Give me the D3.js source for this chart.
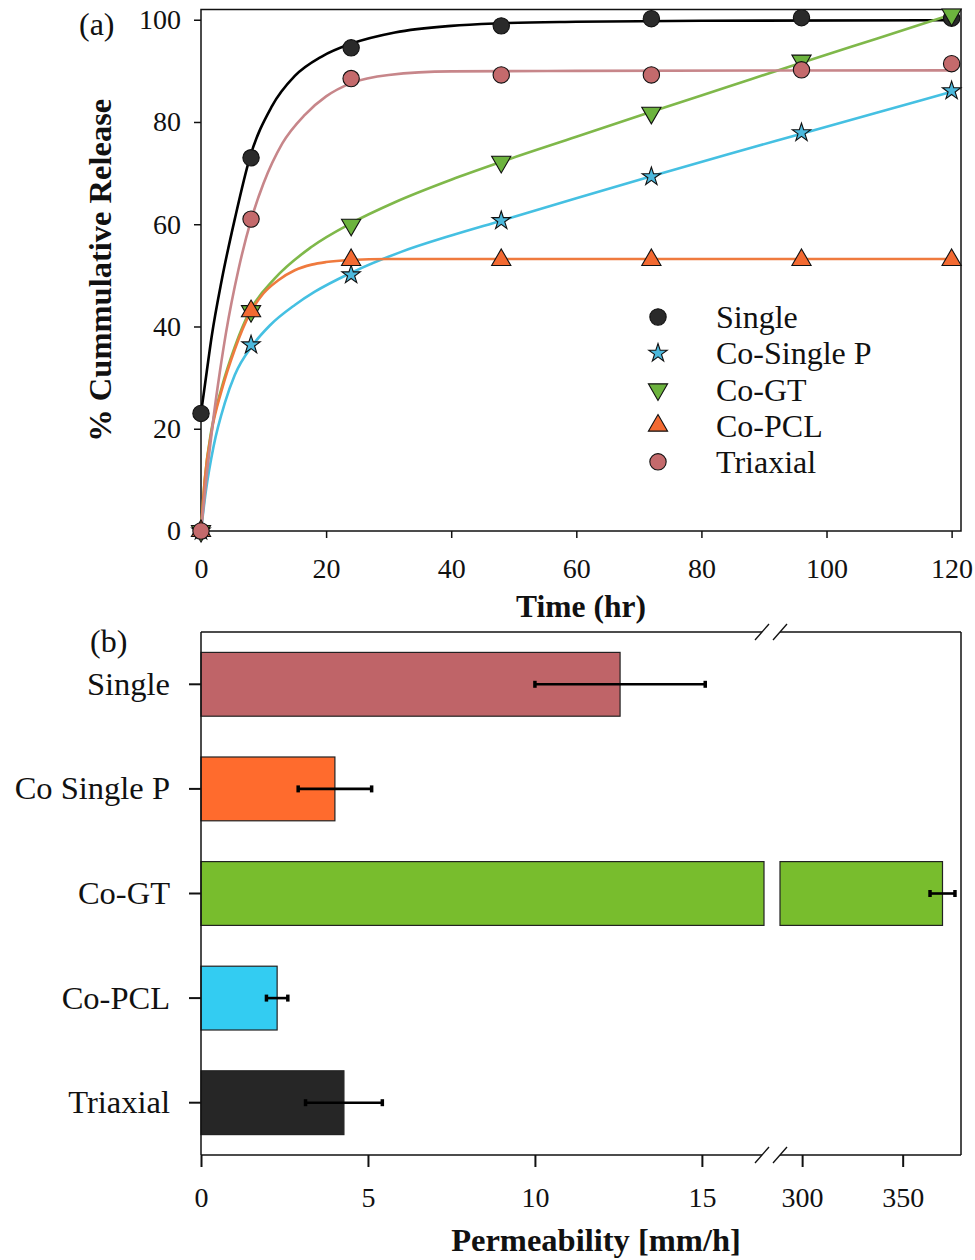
<!DOCTYPE html>
<html>
<head>
<meta charset="utf-8">
<script src="https://cdn.jsdelivr.net/npm/d3@7"></script>
<style>
  body { margin: 0; background: #fff; }
  svg { display: block; }
  text { font-family: "Liberation Serif", "Times New Roman", serif; fill: #111; }
</style>
</head>
<body>
<svg id="chart" width="975" height="1260"></svg>
<script>
// ---------- (a) cumulative release: measured points ----------
const releaseTimes = [0, 8, 24, 48, 72, 96, 120];
const releaseSingle    = [23, 73, 94.5, 98.8, 100.2, 100.4, 100.3];
const releaseCoSingleP = [0, 36.4, 50.1, 60.7, 69.3, 77.9, 86.1];
const releaseCoGT      = [0, 43, 59.9, 72.2, 81.8, 92, 101];
const releaseCoPCL     = [0, 43, 53, 53, 53, 53, 53];
const releaseTriaxial  = [0, 61, 88.5, 89.2, 89.2, 90.2, 91.4];

// ---------- (a) fitted release curves, [time, %] ----------
const fitSingle = [[0,23],[0.9,31],[1.7,38],[3.3,49],[5.4,61],[7.8,73],[11.3,83],[15,89],[19.3,92.8],[24,95.3],[31,97.5],[40,98.8],[48,99.3],[60,99.6],[80,99.8],[120,99.9]];
const fitCoSingleP = [[0,0],[0.8,8],[2,16.5],[3.8,25],[5.4,30.5],[8.3,36.4],[11,40.2],[15,44.2],[18.2,46.8],[24,50.5],[32,54.6],[40,57.8],[48,60.7],[60,65.1],[72,69.4],[84,73.6],[96,77.7],[108,81.8],[120,85.9]];
const fitCoGT = [[0,0],[0.6,10],[1.7,20],[3.3,28],[5.4,36],[7.8,43],[11.8,49.4],[17.7,55.6],[24,60.2],[31,64.3],[40,68.7],[48,72.2],[60,77.1],[72,82],[84,86.8],[96,91.6],[108,96.3],[120,101]];
const fitCoPCL = [[0,0],[0.6,10],[1.7,19.5],[3.3,27.5],[5.4,35.5],[7.8,42.5],[10,46.5],[12.3,49],[15,51],[17.7,52.1],[20,52.6],[23.8,53],[30,53.2],[120,53.2]];
const fitTriaxial = [[0,0],[1,11.9],[2,22.2],[3,31],[4,38.8],[6,51.2],[8,60.8],[10,68],[13,75.8],[16.6,81.4],[20,85],[24,87.6],[30,89.2],[40,89.9],[60,90],[120,90.1]];

const seriesNames = ["Single", "Co-Single P", "Co-GT", "Co-PCL", "Triaxial"];
const releaseTicksX = [0, 20, 40, 60, 80, 100, 120];
const releaseTicksY = [0, 20, 40, 60, 80, 100];

// ---------- (b) permeability ----------
const permCategories = ["Single", "Co Single P", "Co-GT", "Co-PCL", "Triaxial"];
const permValues = [12.55, 4.01, 369.8, 2.28, 4.28];
const permErrors = [2.55, 1.1, 6.2, 0.32, 1.15];
const permTicksLow = [0, 5, 10, 15];
const permTicksHigh = [300, 350];

const svg = d3.select("#chart");

// ======================= panel (a) =======================
const A = { left: 201, right: 961, top: 9.5, bottom: 531 };
const x = d3.scaleLinear().domain([0, 121.5]).range([A.left, A.right]);
const y = d3.scaleLinear().domain([0, 102]).range([A.bottom, A.top]);

const styles = [
  { line: "#000000", fill: "#2a2a2a", sym: d3.symbolCircle, size: 210, rot: 0 },
  { line: "#45c0e2", fill: "#4cb8dc", sym: d3.symbolStar, size: 105, rot: 0 },
  { line: "#7fb84a", fill: "#6cb33e", sym: d3.symbolTriangle, size: 160, rot: 180 },
  { line: "#ef7a3e", fill: "#f36a32", sym: d3.symbolTriangle, size: 160, rot: 0 },
  { line: "#c7868a", fill: "#c46a6c", sym: d3.symbolCircle, size: 210, rot: 0 }
];
const fits = [fitSingle, fitCoSingleP, fitCoGT, fitCoPCL, fitTriaxial];
const points = [releaseSingle, releaseCoSingleP, releaseCoGT, releaseCoPCL, releaseTriaxial];

const gA = svg.append("g");

// frame
gA.append("rect")
  .attr("x", A.left).attr("y", A.top)
  .attr("width", A.right - A.left).attr("height", A.bottom - A.top)
  .attr("fill", "none").attr("stroke", "#111").attr("stroke-width", 1.5);

// axes
const axY = gA.append("g").attr("transform", `translate(${A.left},0)`)
  .call(d3.axisLeft(y).tickValues(releaseTicksY).tickSize(7).tickSizeOuter(0).tickPadding(13));
const axX = gA.append("g").attr("transform", `translate(0,${A.bottom})`)
  .call(d3.axisBottom(x).tickValues(releaseTicksX).tickSize(7).tickSizeOuter(0).tickPadding(20));
[axY, axX].forEach(g => {
  g.select(".domain").remove();
  g.selectAll(".tick line").attr("stroke", "#111").attr("stroke-width", 1.5);
  g.selectAll(".tick text").style("font-size", "28px").style("font-family", "Liberation Serif").attr("fill", "#222");
});

// fitted curves
const line = d3.line().x(d => x(d[0])).y(d => y(d[1])).curve(d3.curveMonotoneX);
fits.forEach((f, i) => {
  gA.append("path").datum(f)
    .attr("d", line)
    .attr("fill", "none")
    .attr("stroke", styles[i].line)
    .attr("stroke-width", 2.6);
});

// markers
function marker(g, st, cx, cy) {
  g.append("path")
    .attr("d", d3.symbol().type(st.sym).size(st.size)())
    .attr("transform", `translate(${cx},${cy}) rotate(${st.rot})`)
    .attr("fill", st.fill)
    .attr("stroke", "#111")
    .attr("stroke-width", 1.1);
}
points.forEach((vals, i) => {
  vals.forEach((v, j) => marker(gA, styles[i], x(releaseTimes[j]), y(v)));
});

// legend
const legY0 = 317, legStep = 36.2;
seriesNames.forEach((name, i) => {
  marker(gA, styles[i], 658, legY0 + i * legStep);
  gA.append("text")
    .attr("x", 716).attr("y", legY0 + i * legStep)
    .attr("dy", "0.35em")
    .style("font-size", "32px")
    .text(name);
});

// titles
gA.append("text").attr("x", 79).attr("y", 35).style("font-size", "32px").text("(a)");
gA.append("text")
  .attr("transform", `translate(100,${(A.top + A.bottom) / 2}) rotate(-90)`)
  .attr("text-anchor", "middle").attr("dy", "0.35em")
  .style("font-size", "32.5px").style("font-weight", "bold")
  .text("% Cummulative Release");
gA.append("text")
  .attr("x", (A.left + A.right) / 2).attr("y", 606)
  .attr("text-anchor", "middle").attr("dy", "0.35em")
  .style("font-size", "31.5px").style("font-weight", "bold")
  .text("Time (hr)");

// ======================= panel (b) =======================
const B = { left: 201, right: 961, top: 632, bottom: 1155, breakL: 764, breakR: 780 };
const xLow = d3.scaleLinear().domain([0, 16.86]).range([B.left, B.breakL]);
const xHigh = d3.scaleLinear().domain([289, 379]).range([B.breakR, B.right]);
const lowMax = xLow.domain()[1], highMin = xHigh.domain()[0];
const yb = d3.scaleBand().domain(permCategories).range([B.top, B.bottom]).paddingInner(0.39).paddingOuter(0.195);

const gB = svg.append("g");
const barColors = ["#bf6468", "#ff6b2d", "#78bd2d", "#33ccf2", "#262626"];

// bars (split across the axis break when needed)
permCategories.forEach((c, i) => {
  const v = permValues[i];
  const segs = v > lowMax
    ? [[xLow(0), xLow(lowMax)], [xHigh(highMin), xHigh(v)]]
    : [[xLow(0), xLow(v)]];
  segs.forEach(s => {
    gB.append("rect")
      .attr("x", s[0]).attr("y", yb(c))
      .attr("width", s[1] - s[0]).attr("height", yb.bandwidth())
      .attr("fill", barColors[i])
      .attr("stroke", "#222").attr("stroke-width", 1.2);
  });
});

// error bars
permCategories.forEach((c, i) => {
  const v = permValues[i], e = permErrors[i];
  const sc = v > lowMax ? xHigh : xLow;
  const cy = yb(c) + yb.bandwidth() / 2;
  const x0 = sc(v - e), x1 = sc(v + e);
  gB.append("line").attr("x1", x0).attr("x2", x1).attr("y1", cy).attr("y2", cy)
    .attr("stroke", "#000").attr("stroke-width", 2.6);
  [x0, x1].forEach(xx => {
    gB.append("line").attr("x1", xx).attr("x2", xx).attr("y1", cy - 3.5).attr("y2", cy + 3.5)
      .attr("stroke", "#000").attr("stroke-width", 3.5);
  });
});

// frame with break gaps in top and bottom edges
const fr = gB.append("g").attr("stroke", "#111").attr("stroke-width", 1.5).attr("fill", "none");
const gapL = 762, gapR = 780;
[B.top, B.bottom].forEach(yy => {
  fr.append("line").attr("x1", B.left).attr("x2", gapL).attr("y1", yy).attr("y2", yy);
  fr.append("line").attr("x1", gapR).attr("x2", B.right).attr("y1", yy).attr("y2", yy);
  [gapL, gapR].forEach(cx => {
    fr.append("line").attr("x1", cx - 7).attr("y1", yy + 8).attr("x2", cx + 7).attr("y2", yy - 8)
      .attr("stroke-width", 1.3);
  });
});
fr.append("line").attr("x1", B.left).attr("x2", B.left).attr("y1", B.top).attr("y2", B.bottom);
fr.append("line").attr("x1", B.right).attr("x2", B.right).attr("y1", B.top).attr("y2", B.bottom);

// x axes (two segments)
function styleAxis(g) {
  g.select(".domain").remove();
  g.selectAll(".tick line").attr("stroke", "#111").attr("stroke-width", 2);
  g.selectAll(".tick text").style("font-size", "28px").style("font-family", "Liberation Serif").attr("fill", "#222");
}
gB.append("g").attr("transform", `translate(0,${B.bottom})`)
  .call(d3.axisBottom(xLow).tickValues(permTicksLow).tickSize(12).tickSizeOuter(0).tickPadding(20))
  .call(styleAxis);
gB.append("g").attr("transform", `translate(0,${B.bottom})`)
  .call(d3.axisBottom(xHigh).tickValues(permTicksHigh).tickSize(12).tickSizeOuter(0).tickPadding(20))
  .call(styleAxis);

// category axis
gB.append("g").attr("transform", `translate(${B.left},0)`)
  .call(d3.axisLeft(yb).tickSize(12).tickSizeOuter(0).tickPadding(19))
  .call(g => {
    g.select(".domain").remove();
    g.selectAll(".tick line").attr("stroke", "#111").attr("stroke-width", 2);
    g.selectAll(".tick text").style("font-size", "32.5px").style("font-family", "Liberation Serif").attr("fill", "#222");
  });

// titles
gB.append("text").attr("x", 90).attr("y", 652).style("font-size", "32px").text("(b)");
gB.append("text")
  .attr("x", 596).attr("y", 1240)
  .attr("text-anchor", "middle").attr("dy", "0.35em")
  .style("font-size", "32.5px").style("font-weight", "bold")
  .text("Permeability [mm/h]");
</script>
</body>
</html>
